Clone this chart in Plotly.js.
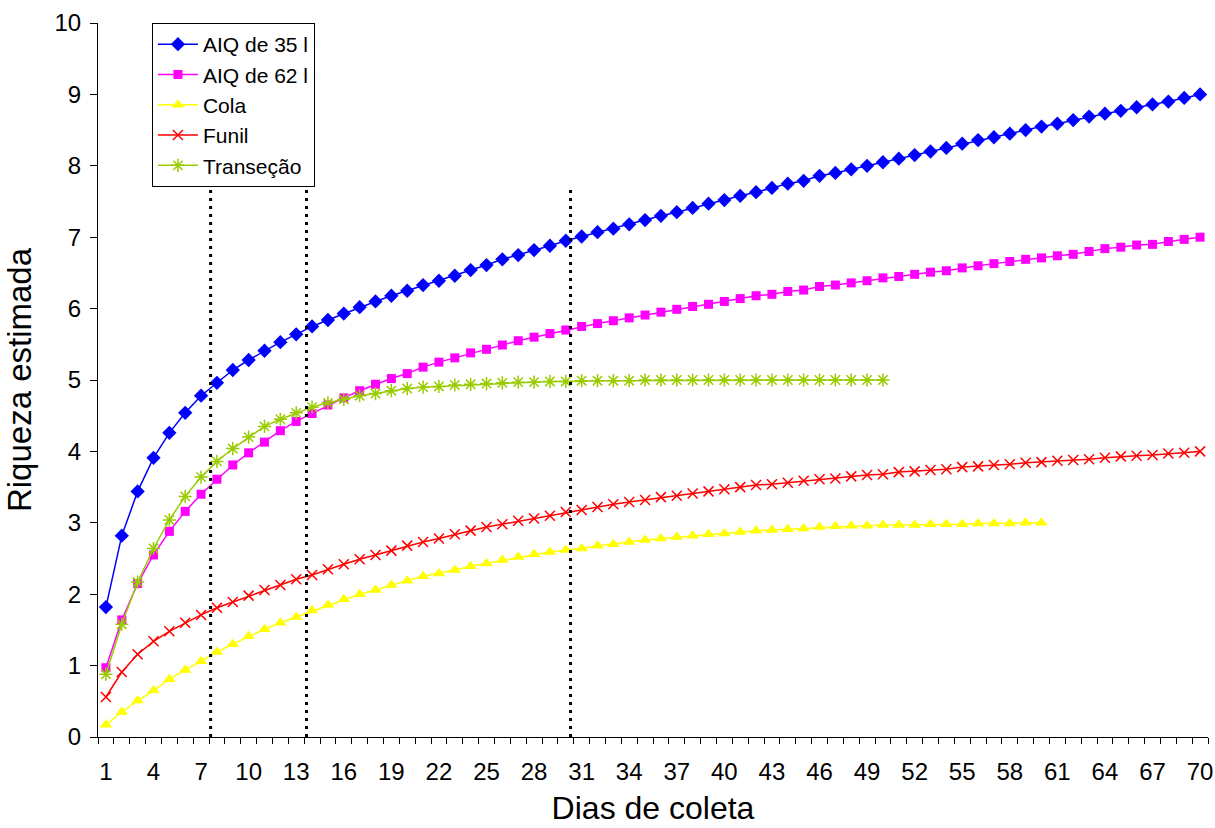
<!DOCTYPE html>
<html>
<head>
<meta charset="utf-8">
<script src="https://cdn.plot.ly/plotly-3.0.1.min.js"></script>
<style>
html,body{margin:0;padding:0;background:#fff;}
#chart{width:1215px;height:828px;}
</style>
</head>
<body>
<div id="chart"></div>
<script>
const dias = [1,2,3,4,5,6,7,8,9,10,11,12,13,14,15,16,17,18,19,20,21,22,23,24,25,26,27,28,29,30,31,32,33,34,35,36,37,38,39,40,41,42,43,44,45,46,47,48,49,50,51,52,53,54,55,56,57,58,59,60,61,62,63,64,65,66,67,68,69,70];

const tickDias = [1,4,7,10,13,16,19,22,25,28,31,34,37,40,43,46,49,52,55,58,61,64,67,70];
const tickLabels = ["1","4","7","10","13","16","19","22","25","28","31","34","37","40","43","46","49","52","55","58","61","64","67","70"];

const aiq35 = [1.82,2.82,3.44,3.91,4.26,4.54,4.78,4.96,5.14,5.28,
  5.41,5.53,5.64,5.75,5.84,5.93,6.02,6.10,6.18,6.25,
  6.33,6.39,6.46,6.54,6.61,6.69,6.75,6.82,6.88,6.95,
  7.01,7.07,7.12,7.18,7.24,7.30,7.35,7.41,7.47,7.52,
  7.58,7.63,7.69,7.75,7.79,7.86,7.90,7.95,8.00,8.05,
  8.10,8.15,8.20,8.25,8.31,8.36,8.40,8.45,8.50,8.55,
  8.59,8.64,8.69,8.73,8.77,8.82,8.86,8.90,8.95,9.00];

const aiq62 = [0.97,1.64,2.15,2.55,2.88,3.16,3.40,3.61,3.81,3.98,
  4.13,4.29,4.42,4.53,4.65,4.75,4.85,4.94,5.02,5.09,
  5.18,5.25,5.31,5.38,5.43,5.49,5.55,5.60,5.65,5.70,
  5.75,5.79,5.83,5.87,5.91,5.95,5.99,6.03,6.06,6.10,
  6.14,6.18,6.20,6.24,6.26,6.31,6.33,6.36,6.39,6.43,
  6.45,6.48,6.51,6.53,6.57,6.60,6.63,6.66,6.69,6.71,
  6.74,6.76,6.80,6.84,6.86,6.89,6.90,6.94,6.97,7.00];

const cola = [0.17,0.35,0.51,0.65,0.81,0.94,1.06,1.19,1.30,1.41,
  1.51,1.60,1.68,1.77,1.85,1.93,2.00,2.06,2.13,2.19,
  2.25,2.29,2.34,2.39,2.43,2.48,2.52,2.56,2.59,2.62,
  2.64,2.68,2.70,2.73,2.76,2.78,2.80,2.82,2.84,2.85,
  2.87,2.89,2.90,2.91,2.92,2.94,2.95,2.96,2.96,2.97,
  2.97,2.97,2.98,2.98,2.98,2.99,2.99,2.99,3.00,3.00];

const funil = [0.56,0.91,1.16,1.34,1.48,1.60,1.71,1.81,1.89,1.98,
  2.06,2.13,2.21,2.27,2.35,2.42,2.49,2.55,2.61,2.68,
  2.73,2.78,2.84,2.89,2.94,2.98,3.03,3.06,3.10,3.15,
  3.18,3.22,3.26,3.29,3.32,3.36,3.38,3.41,3.44,3.47,
  3.50,3.53,3.54,3.56,3.59,3.61,3.62,3.65,3.67,3.68,
  3.71,3.72,3.74,3.75,3.78,3.79,3.81,3.82,3.84,3.85,
  3.87,3.88,3.89,3.91,3.93,3.94,3.95,3.97,3.98,4.00];

const transecao = [0.88,1.58,2.17,2.64,3.04,3.37,3.64,3.86,4.04,4.20,
  4.35,4.45,4.54,4.62,4.68,4.73,4.78,4.81,4.85,4.88,
  4.90,4.91,4.93,4.94,4.95,4.96,4.97,4.97,4.98,4.98,
  4.99,4.99,4.99,4.99,5.00,5.00,5.00,5.00,5.00,5.00,
  5.00,5.00,5.00,5.00,5.00,5.00,5.00,5.00,5.00,5.00];

const seriesNames = ["AIQ de 35 l","AIQ de 62 l","Cola","Funil","Transeção"];

// vertical dotted reference lines (x position in days, top value)
const marcosX = [7.6, 13.65, 30.3];
const marcosTopo = 7.66;

const traces = [
  {x: dias.slice(0, aiq35.length), y: aiq35, name: seriesNames[0], type:'scatter', mode:'lines+markers',
   line:{color:'#0000FF', width:1.5}, marker:{symbol:'diamond', size:11, color:'#0000FF'}},
  {x: dias.slice(0, aiq62.length), y: aiq62, name: seriesNames[1], type:'scatter', mode:'lines+markers',
   line:{color:'#FF00FF', width:1.5}, marker:{symbol:'square', size:9, color:'#FF00FF'}},
  {x: dias.slice(0, cola.length), y: cola, name: seriesNames[2], type:'scatter', mode:'lines+markers',
   line:{color:'#FFFF00', width:1.5}, marker:{symbol:'triangle-up', size:11, color:'#FFFF00'}},
  {x: dias.slice(0, funil.length), y: funil, name: seriesNames[3], type:'scatter', mode:'lines+markers',
   line:{color:'#FF0000', width:1.5}, marker:{symbol:'x-thin-open', size:10, color:'#FF0000', line:{color:'#FF0000', width:1.5}}},
  {x: dias.slice(0, transecao.length), y: transecao, name: seriesNames[4], type:'scatter', mode:'lines+markers',
   line:{color:'#99CC00', width:1.5}, marker:{symbol:'asterisk-open', size:11, color:'#99CC00', line:{color:'#99CC00', width:1.5}}}
];

const shapes = marcosX.map(function(v){
  return {type:'line', xref:'x', yref:'y', x0:v, x1:v, y0:0, y1:marcosTopo,
          line:{color:'#000000', width:3, dash:'3px,5px'}, layer:'above'};
});

const layout = {
  width:1215, height:828,
  margin:{l:98, r:7, t:23, b:91, pad:0},
  paper_bgcolor:'#FFFFFF', plot_bgcolor:'#FFFFFF',
  font:{family:'"Liberation Sans", Arial, sans-serif', color:'#000000'},
  showlegend:true,
  legend:{x:0.0486, y:1.0, xanchor:'left', yanchor:'top', bgcolor:'#FFFFFF',
          bordercolor:'#000000', borderwidth:1, font:{size:21, color:'#000000'},
          itemwidth:40, tracegroupgap:0},
  xaxis:{
    range:[0.5, 70.5], tickmode:'array', tickvals:tickDias, ticktext:tickLabels,
    ticks:'', showgrid:false, zeroline:false, showline:true, linecolor:'#000000', linewidth:1,
    tickfont:{size:24, color:'#000000'}, ticklabelstandoff:13,
    minor:{ticks:'outside', tickmode:'linear', tick0:0.5, dtick:1, ticklen:6, tickcolor:'#000000', tickwidth:1, showgrid:false},
    title:{text:'Dias de coleta', font:{size:32, color:'#000000'}, standoff:12}
  },
  yaxis:{
    range:[0, 10], tickmode:'linear', tick0:0, dtick:1,
    ticks:'outside', ticklen:7, tickcolor:'#000000', tickwidth:1,
    showgrid:false, zeroline:false, showline:true, linecolor:'#000000', linewidth:1,
    tickfont:{size:24, color:'#000000'}, ticklabelstandoff:4,
    title:{text:'Riqueza estimada', font:{size:33, color:'#000000'}, standoff:12}
  },
  shapes: shapes
};

Plotly.newPlot('chart', traces, layout, {displayModeBar:false, staticPlot:true});
</script>
</body>
</html>
